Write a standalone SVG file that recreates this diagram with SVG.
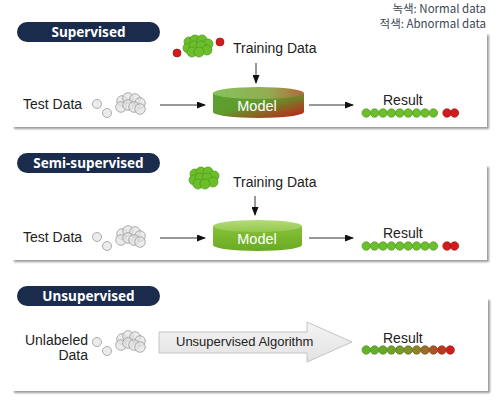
<svg xmlns="http://www.w3.org/2000/svg" xmlns:xlink="http://www.w3.org/1999/xlink" width="497" height="402" viewBox="0 0 497 402">
<style>
.lbl{font-family:"Liberation Sans",Arial,sans-serif;font-size:14px;fill:#222}
.alg{font-family:"Liberation Sans",Arial,sans-serif;font-size:13px;fill:#222}
.pilltxt{font-family:"Noto Sans","Noto Sans CJK KR",sans-serif;font-size:13.5px;font-weight:bold;fill:#fff}
.legend{font-family:"Noto Sans CJK KR","Noto Sans",sans-serif;font-size:11.5px;fill:#3c4654}
.model{font-family:"Liberation Sans",Arial,sans-serif;font-size:14.5px;fill:#fff}
.conn{stroke:#333;stroke-width:1;fill:none}
.pill{fill:#1a2b4c}
.panel{fill:#fff}
.gb{fill:#6cbf2a;stroke:#4a9a1c;stroke-width:0.7}
.rb{fill:#d01c1c;stroke:#a51212;stroke-width:0.7}
.gy{fill:#e2e2e2;fill-opacity:0.7;stroke:#999;stroke-width:0.8}
</style>
<defs>
<filter id="sh" x="-5%" y="-5%" width="110%" height="115%">
<feGaussianBlur stdDeviation="1"/>
</filter>
<marker id="ah" markerWidth="9" markerHeight="7" refX="8" refY="3.5" orient="auto" markerUnits="userSpaceOnUse">
<path d="M0,0 L9,3.5 L0,7 Z" fill="#111"/>
</marker>
<linearGradient id="cylRG" x1="0" y1="0" x2="1" y2="1">
<stop offset="0" stop-color="#5aa533"/>
<stop offset="0.45" stop-color="#5f9a2c"/>
<stop offset="1" stop-color="#c8181a"/>
</linearGradient>
<linearGradient id="topRG" x1="0" y1="0" x2="1" y2="0">
<stop offset="0" stop-color="#86c25a"/>
<stop offset="0.6" stop-color="#92ad52"/>
<stop offset="1" stop-color="#b0683a"/>
</linearGradient>
<linearGradient id="cylG" x1="0" y1="0" x2="0" y2="1">
<stop offset="0" stop-color="#86c23a"/>
<stop offset="1" stop-color="#6aaa22"/>
</linearGradient>
<linearGradient id="topG" x1="0" y1="0" x2="0" y2="1">
<stop offset="0" stop-color="#b4da7a"/>
<stop offset="1" stop-color="#94c84e"/>
</linearGradient>
<linearGradient id="arrG" x1="0" y1="0" x2="0" y2="1">
<stop offset="0" stop-color="#f4f4f4"/>
<stop offset="1" stop-color="#e2e2e2"/>
</linearGradient>
<g id="grey">
<circle class="gy" cx="-9" cy="-3" r="5.3"/>
<circle class="gy" cx="-3" cy="-6" r="5.3"/>
<circle class="gy" cx="4" cy="-5" r="5.3"/>
<circle class="gy" cx="9" cy="-1" r="5.3"/>
<circle class="gy" cx="-10" cy="3" r="5.3"/>
<circle class="gy" cx="-3" cy="1" r="5.3"/>
<circle class="gy" cx="3" cy="3" r="5.3"/>
<circle class="gy" cx="9" cy="5" r="5.3"/>
</g>
<g id="green">
<circle class="gb" cx="-9" cy="-4" r="5"/>
<circle class="gb" cx="-3" cy="-6" r="5"/>
<circle class="gb" cx="4" cy="-6" r="5"/>
<circle class="gb" cx="10" cy="-2" r="5"/>
<circle class="gb" cx="-10" cy="2" r="5"/>
<circle class="gb" cx="-4" cy="0" r="5"/>
<circle class="gb" cx="3" cy="0" r="5"/>
<circle class="gb" cx="9" cy="4" r="5"/>
<circle class="gb" cx="-6" cy="6" r="5"/>
<circle class="gb" cx="1" cy="6" r="5"/>
</g>
</defs>
<rect width="497" height="402" fill="#fff"/>

<g id="legend">
<text class="legend" x="486" y="13" text-anchor="end">녹색: Normal data</text>
<text class="legend" x="486" y="28" text-anchor="end">적색: Abnormal data</text>
</g>

<!-- Panel 1 -->
<g id="panel-supervised">
<rect x="14" y="35" width="475" height="94" fill="#999" filter="url(#sh)"/>
<rect class="panel" x="12" y="33" width="475" height="94"/>
<rect class="pill" x="17" y="22" width="143" height="20" rx="10"/>
<text class="pilltxt" x="88.5" y="37" text-anchor="middle">Supervised</text>
</g>
<g id="n1-test">
<text class="lbl" x="23" y="109">Test Data</text>
<circle class="gy" cx="97" cy="104" r="4.5"/>
<circle class="gy" cx="107" cy="113" r="4.5"/>
<use xlink:href="#grey" x="131" y="104"/>
</g>
<g id="n1-train">
<use xlink:href="#green" x="198" y="46"/>
<circle class="rb" cx="177" cy="53" r="4"/>
<circle class="rb" cx="220" cy="42" r="4"/>
<text class="lbl" x="233" y="53">Training Data</text>
</g>
<g id="n1-model">
<path d="M213,93 V112 A45.5,6 0 0 0 304,112 V93 Z" fill="url(#cylRG)"/>
<ellipse cx="258.5" cy="93" rx="45.5" ry="6" fill="url(#topRG)"/>
<text class="model" x="257" y="111" text-anchor="middle">Model</text>
</g>
<g id="n1-result">
<text class="lbl" x="383" y="105">Result</text>
<g>
<circle class="gb" cx="366.2" cy="113" r="4.2"/><circle class="gb" cx="374.6" cy="113" r="4.2"/><circle class="gb" cx="383" cy="113" r="4.2"/><circle class="gb" cx="391.4" cy="113" r="4.2"/><circle class="gb" cx="399.8" cy="113" r="4.2"/><circle class="gb" cx="408.2" cy="113" r="4.2"/><circle class="gb" cx="416.6" cy="113" r="4.2"/><circle class="gb" cx="425" cy="113" r="4.2"/><circle class="gb" cx="433.4" cy="113" r="4.2"/>
<circle class="rb" cx="447" cy="113" r="4.2"/><circle class="rb" cx="454.5" cy="113" r="4.2"/>
</g>
</g>

<!-- Panel 2 -->
<g id="panel-semi">
<rect x="14" y="167" width="475" height="95" fill="#999" filter="url(#sh)"/>
<rect class="panel" x="12" y="165" width="475" height="95"/>
<rect class="pill" x="17" y="153" width="143" height="20" rx="10"/>
<text class="pilltxt" x="88.5" y="168" text-anchor="middle">Semi-supervised</text>
</g>
<g id="n2-test">
<text class="lbl" x="23" y="242">Test Data</text>
<circle class="gy" cx="97" cy="237" r="4.5"/>
<circle class="gy" cx="107" cy="246" r="4.5"/>
<use xlink:href="#grey" x="131" y="237"/>
</g>
<g id="n2-train">
<use xlink:href="#green" x="204" y="178"/>
<text class="lbl" x="233" y="187">Training Data</text>
</g>
<g id="n2-model">
<path d="M213,226 V245 A44.5,6 0 0 0 302,245 V226 Z" fill="url(#cylG)"/>
<ellipse cx="257.5" cy="226" rx="44.5" ry="6" fill="url(#topG)"/>
<text class="model" x="257" y="244" text-anchor="middle">Model</text>
</g>
<g id="n2-result">
<text class="lbl" x="383" y="238">Result</text>
<g>
<circle class="gb" cx="366.2" cy="246" r="4.2"/><circle class="gb" cx="374.6" cy="246" r="4.2"/><circle class="gb" cx="383" cy="246" r="4.2"/><circle class="gb" cx="391.4" cy="246" r="4.2"/><circle class="gb" cx="399.8" cy="246" r="4.2"/><circle class="gb" cx="408.2" cy="246" r="4.2"/><circle class="gb" cx="416.6" cy="246" r="4.2"/><circle class="gb" cx="425" cy="246" r="4.2"/><circle class="gb" cx="433.4" cy="246" r="4.2"/>
<circle class="rb" cx="447" cy="246" r="4.2"/><circle class="rb" cx="454.5" cy="246" r="4.2"/>
</g>
</g>

<!-- Panel 3 -->
<g id="panel-unsupervised">
<rect x="14" y="300" width="476" height="93" fill="#999" filter="url(#sh)"/>
<rect class="panel" x="12" y="298" width="476" height="93"/>
<rect class="pill" x="17" y="286" width="143" height="20" rx="10"/>
<text class="pilltxt" x="88.5" y="301" text-anchor="middle">Unsupervised</text>
</g>
<g id="n3-data">
<text class="lbl" x="88" y="345" text-anchor="end">Unlabeled</text>
<text class="lbl" x="88" y="360" text-anchor="end">Data</text>
<circle class="gy" cx="97" cy="342" r="4.5"/>
<circle class="gy" cx="107" cy="351" r="4.5"/>
<use xlink:href="#grey" x="131" y="342"/>
</g>
<g id="n3-algorithm">
<path d="M159,332 H307 V322 L352,342 L307,362 V353 H159 Z" fill="url(#arrG)" stroke="#c4c4c4" stroke-width="1"/>
<text class="alg" x="176" y="346">Unsupervised Algorithm</text>
</g>
<g id="n3-result">
<text class="lbl" x="383" y="343">Result</text>
<g stroke-width="0.7">
<circle cx="366.2" cy="350" r="4.2" fill="#62b22a" stroke="#4a921c"/>
<circle cx="374.6" cy="350" r="4.2" fill="#64ae28" stroke="#4a8e1c"/>
<circle cx="383" cy="350" r="4.2" fill="#68a828" stroke="#4c881c"/>
<circle cx="391.4" cy="350" r="4.2" fill="#6ea228" stroke="#52821c"/>
<circle cx="399.8" cy="350" r="4.2" fill="#769a28" stroke="#5a7a1c"/>
<circle cx="408.2" cy="350" r="4.2" fill="#809028" stroke="#62701c"/>
<circle cx="416.6" cy="350" r="4.2" fill="#8c8228" stroke="#6c621c"/>
<circle cx="425" cy="350" r="4.2" fill="#9a6e26" stroke="#78501a"/>
<circle cx="433.4" cy="350" r="4.2" fill="#aa5424" stroke="#863a18"/>
<circle cx="441.8" cy="350" r="4.2" fill="#ba3a20" stroke="#962816"/>
<circle cx="450.2" cy="350" r="4.2" fill="#cc201c" stroke="#a41414"/>
</g>
</g>

<g id="connectors">
<line class="conn" x1="160" y1="105" x2="205" y2="105" marker-end="url(#ah)"/>
<line class="conn" x1="256" y1="63" x2="256" y2="83" marker-end="url(#ah)"/>
<line class="conn" x1="309" y1="105" x2="353" y2="105" marker-end="url(#ah)"/>
<line class="conn" x1="160" y1="238" x2="205" y2="238" marker-end="url(#ah)"/>
<line class="conn" x1="255" y1="196" x2="255" y2="215" marker-end="url(#ah)"/>
<line class="conn" x1="309" y1="238" x2="353" y2="238" marker-end="url(#ah)"/>
</g>
</svg>
